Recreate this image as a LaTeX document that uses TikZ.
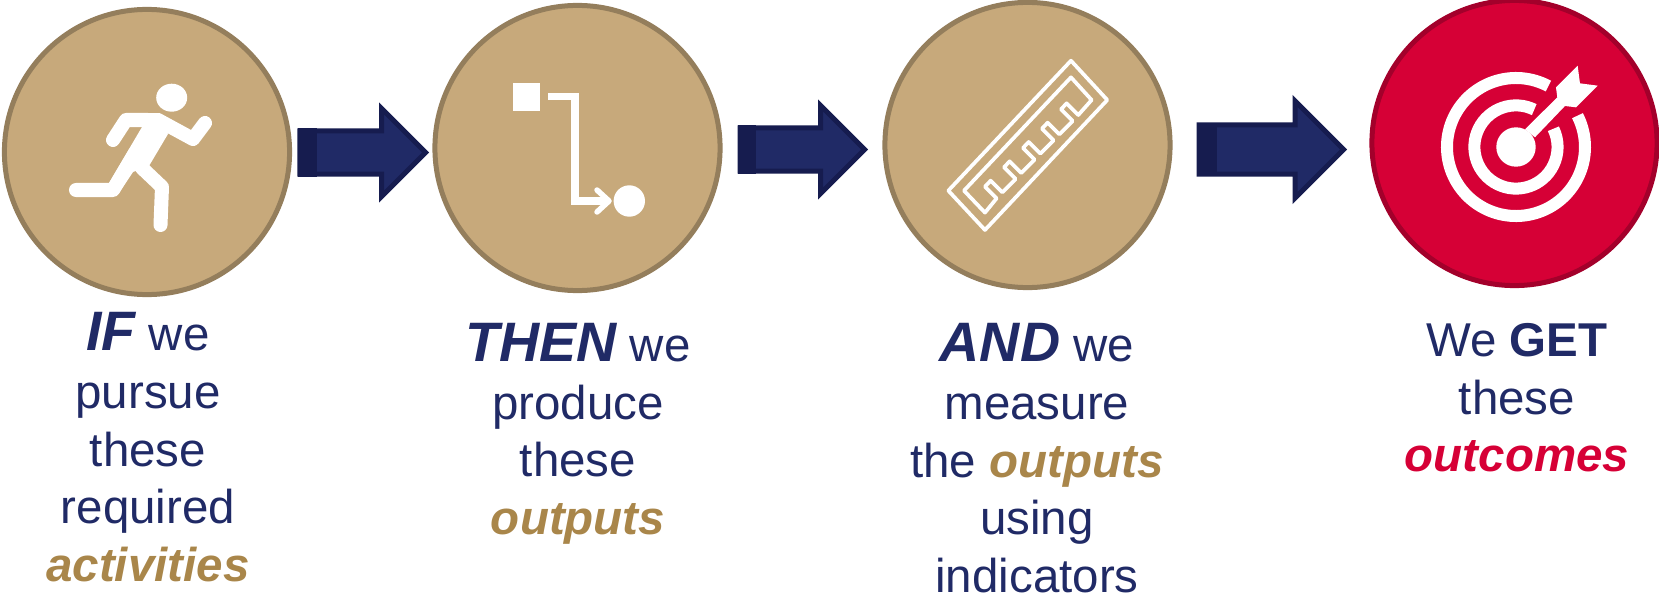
\documentclass[tikz,border=0pt]{standalone}
\usepackage{fontspec}
\setmainfont{Liberation Sans}
\usetikzlibrary{shapes.arrows}
\definecolor{tan}{HTML}{C7A97B}
\definecolor{tanline}{HTML}{947E5C}
\definecolor{tantext}{HTML}{A9864A}
\definecolor{navy}{HTML}{202A66}
\definecolor{navyline}{HTML}{161C4F}
\definecolor{crimson}{HTML}{D60036}
\definecolor{crimsonline}{HTML}{A3002B}
\newcommand{\bigword}[1]{{\fontsize{15.8}{16}\selectfont\bfseries\itshape #1}}
\newcommand{\tanword}[1]{{\color{tantext}\bfseries\itshape #1}}
\tikzset{
    stage/.style={circle,draw=tanline,fill=tan,line width=0.05cm,minimum size=2.85cm,inner sep=0pt},
    goal/.style={stage,draw=crimsonline,fill=crimson},
    caption/.style={text=navy,align=center,font=\fontsize{13.5}{16.4}\selectfont,anchor=north},
    flow/.style={single arrow,draw=navyline,fill=navy,line width=0.05cm,inner xsep=0pt,outer sep=0pt,single arrow tip angle=90,anchor=tail},
    limb/.style={white,line width=0.14cm,line cap=round,line join=round},
    ring/.style={white,line width=0.12cm}
}
\begin{document}
\begin{tikzpicture}[x=0.01cm,y=-0.01cm]
    \useasboundingbox (0,0) rectangle (1659,600);
    \node[stage] (activity) at (147,152) {};
    \node[stage] (output) at (577.5,148) {};
    \node[stage] (measure) at (1027.5,145) {};
    \node[goal] (outcome) at (1514.5,143) {};
    % block arrows
    \node[flow,inner ysep=0.19cm,single arrow head extend=0.225cm,minimum width=0.83cm,minimum height=1.255cm] (arrowa) at (300,152.5) {};
    \node[flow,inner ysep=0.19cm,single arrow head extend=0.225cm,minimum width=0.83cm,minimum height=1.245cm] (arrowb) at (740,149.5) {};
    \node[flow,inner ysep=0.22cm,single arrow head extend=0.24cm,minimum width=0.92cm,minimum height=1.445cm] (arrowc) at (1199,149.5) {};
    \fill[navyline] (298,128) rectangle (317,177);
    \fill[navyline] (738,125) rectangle (756,174);
    \fill[navyline] (1197,123) rectangle (1217,176);
    % runner
    \fill[white] (171.7,97.7) ellipse (15.5 and 14);
    \fill[white] (125,113) -- (160,113) -- (168,134) -- (149,166) -- (133,172) -- (119,193) -- (109,183) -- (142,127) -- cycle;
    \draw[limb] (158,120) -- (193,139) -- (205,123);
    \draw[limb] (148,120) -- (126,120) -- (113,140);
    \draw[limb] (76,190) -- (113,190) -- (135,153);
    \draw[limb] (142,168) -- (162,187) -- (160.5,225);
    % flow chart
    \fill[white] (512.7,83) rectangle (540,111);
    \draw[white,line width=0.075cm] (548,96.7) -- (575,96.7) -- (575,201) -- (606,201);
    \draw[limb,line width=0.055cm] (597,190) -- (609,201) -- (597,212);
    \fill[white] (629.3,201) circle (15.7);
    % chip
    \begin{scope}[shift={(870,0)},scale=0.3333]
        \draw[white,line width=0.037cm,line join=round] (603,182) -- (712,300) -- (345,690) -- (235,572) -- cycle;
        \draw[white,line width=0.037cm,line join=round] (603,232) -- (665,300) -- (625,345) -- (590,310) -- (573,328) -- (608,363) -- (568,403) -- (533,368) -- (516,386) -- (551,421) -- (511,461) -- (476,426) -- (459,444) -- (494,479) -- (454,519) -- (419,484) -- (402,502) -- (437,537) -- (397,577) -- (362,542) -- (345,560) -- (380,595) -- (345,638) -- (282,572) -- cycle;
    \end{scope}
    % target
    \coordinate (bull) at (1516,147);
    \draw[ring] (bull) ++(-62:69) arc[start angle=-62,end angle=-387,radius=69];
    \draw[ring] (bull) ++(-64:41.6) arc[start angle=-64,end angle=-386,radius=41.6];
    \fill[white] (bull) circle (19.7);
    \begin{scope}[shift={(1340,0)},scale=0.3333]
        \fill[white] (555,388) -- (652,292) -- (648,262) -- (713,197) -- (720,250) -- (773,257) -- (708,322) -- (675,318) -- (585,412) -- cycle;
    \end{scope}
    % captions
    \node[caption] (texta) at (148,300) {\bigword{IF} we\\pursue\\these\\required\\\tanword{activities}};
    \node[caption] (textb) at (578,311) {\bigword{THEN} we\\produce\\these\\\tanword{outputs}};
    \node[caption] (textc) at (1037,311) {\bigword{AND} we\\measure\\the \tanword{outputs}\\using\\indicators};
    \node[caption] (textd) at (1517,311) {We {\bfseries GET}\\these\\{\color{crimson}\bfseries\itshape outcomes}};
\end{tikzpicture}
\end{document}
